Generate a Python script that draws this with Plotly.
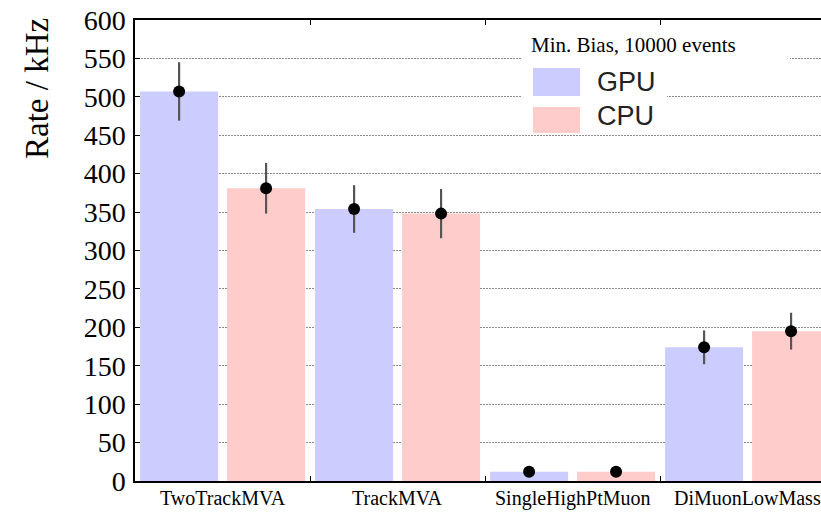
import plotly.graph_objects as go

# Trigger rates per HLT1 line, measured on minimum-bias events
categories = ["TwoTrackMVA", "TrackMVA", "SingleHighPtMuon", "DiMuonLowMass"]
gpu_rate = [507, 354, 12, 174]
gpu_err = [38, 31, 1, 22]
cpu_rate = [381, 348, 12, 195]
cpu_err = [33, 32, 1, 24]
y_ticks = [0, 50, 100, 150, 200, 250, 300, 350, 400, 450, 500, 550, 600]

GPU_COLOR = "#ccccff"
CPU_COLOR = "#ffcccc"
SERIF = "Liberation Serif, Times New Roman, serif"
SANS = "Liberation Sans, Arial, sans-serif"

W, H = 821, 513
ML, MR, MT, MB = 135, 0, 20, 32
PW, PH = W - ML - MR, H - MT - MB

# bar geometry inside each category slot (in category units)
BAR_W = 0.446
GPU_OFF = -0.471
CPU_OFF = 0.026


def px(x):
    return (x - ML) / PW


def py(y):
    return (H - MB - y) / PH


idx = list(range(len(categories)))

fig = go.Figure()
for vals, errs, off, color, name in [
    (gpu_rate, gpu_err, GPU_OFF, GPU_COLOR, "GPU"),
    (cpu_rate, cpu_err, CPU_OFF, CPU_COLOR, "CPU"),
]:
    fig.add_trace(go.Bar(
        x=idx, y=vals, offset=off, width=BAR_W,
        marker=dict(color=color, line=dict(width=0)),
        name=name, showlegend=False,
    ))
    centers = [i + off + BAR_W / 2 for i in idx]
    fig.add_trace(go.Scatter(
        x=centers, y=vals, mode="markers",
        marker=dict(color="black", size=12),
        error_y=dict(type="data", array=errs, width=0, thickness=2.2, color="#555555"),
        showlegend=False, hoverinfo="skip",
    ))

fig.update_layout(
    width=W, height=H,
    margin=dict(l=ML, r=MR, t=MT, b=MB),
    plot_bgcolor="white", paper_bgcolor="white",
    barmode="overlay",
    showlegend=False,
    xaxis=dict(
        range=[-0.5, -0.5 + PW / 175.0],
        tickvals=[i + 0.5 for i in idx[:-1]],
        ticktext=["" for _ in idx[:-1]],
        ticks="inside", ticklen=5, tickwidth=1.2, tickcolor="black",
        showline=True, linecolor="black", linewidth=1.8, mirror="ticks",
        showgrid=False, zeroline=False,
    ),
    yaxis=dict(
        range=[0, 600],
        tickvals=y_ticks,
        ticks="inside", ticklen=5, tickwidth=1.2, tickcolor="black",
        tickfont=dict(family=SERIF, size=28, color="black"),
        ticklabelstandoff=2,
        showline=True, linecolor="black", linewidth=1.5,
        showgrid=True, gridcolor="#8a8a8a", griddash="1.5px,1.5px", gridwidth=1.2,
        zeroline=False,
    ),
)

annotations = []
# category labels under each group
for i, cat in zip(idx, categories):
    annotations.append(dict(
        x=i, xref="x", y=py(498), yref="paper", text=cat, showarrow=False,
        font=dict(family=SERIF, size=20, color="black"),
        xanchor="center", yanchor="middle",
    ))
# y-axis title
annotations.append(dict(
    x=px(37), y=py(89), xref="paper", yref="paper", text="Rate / kHz",
    textangle=-90, showarrow=False,
    font=dict(family=SERIF, size=33, color="black"),
    xanchor="center", yanchor="middle",
))
# legend
annotations.append(dict(
    x=px(529), y=py(45), xref="paper", yref="paper",
    text="Min. Bias, 10000 events", showarrow=False,
    font=dict(family=SERIF, size=21, color="black"),
    xanchor="left", yanchor="middle",
))
for label, yc in [("GPU", 82), ("CPU", 116)]:
    annotations.append(dict(
        x=px(595), y=py(yc), xref="paper", yref="paper", text=label,
        showarrow=False, font=dict(family=SANS, size=27, color="#222222"),
        xanchor="left", yanchor="middle",
    ))

shapes = [
    dict(type="rect", xref="paper", yref="paper", layer="above",
         x0=px(522), x1=px(790), y0=py(70), y1=py(27),
         fillcolor="white", line=dict(width=0)),
    dict(type="rect", xref="paper", yref="paper", layer="above",
         x0=px(522), x1=px(667), y0=py(128), y1=py(60),
         fillcolor="white", line=dict(width=0)),
    dict(type="rect", xref="paper", yref="paper", layer="above",
         x0=px(533), x1=px(580), y0=py(96), y1=py(68),
         fillcolor=GPU_COLOR, line=dict(width=0)),
    dict(type="rect", xref="paper", yref="paper", layer="above",
         x0=px(533), x1=px(580), y0=py(133), y1=py(107),
         fillcolor=CPU_COLOR, line=dict(width=0)),
]

fig.update_layout(annotations=annotations, shapes=shapes)
fig.write_html("out.html")
